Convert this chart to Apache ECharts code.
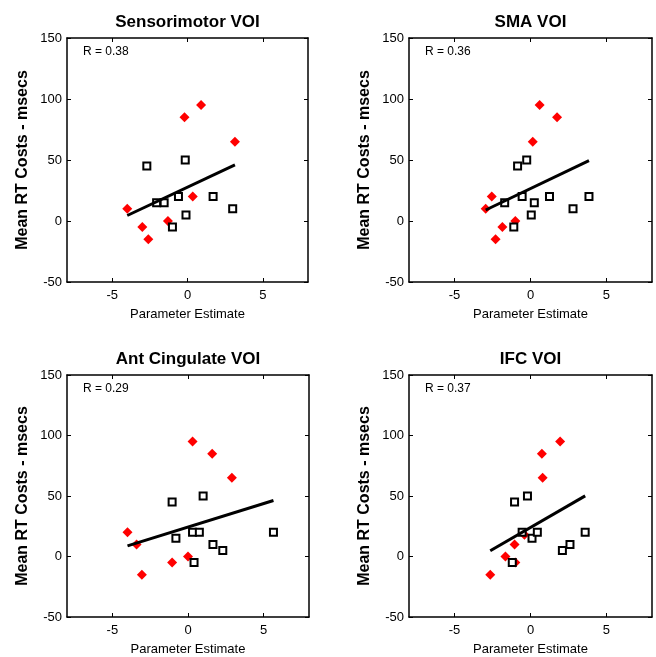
<!DOCTYPE html>
<html>
<head>
<meta charset="utf-8">
<script src="https://cdn.jsdelivr.net/npm/echarts@6/dist/echarts.min.js"></script>
<style>
html,body{margin:0;padding:0;background:#fff;}
#chart{width:656px;height:657px;}
</style>
</head>
<body>
<div id="chart"></div>
<script>
// ---- data ----
const panelTitles = ['Sensorimotor VOI', 'SMA VOI', 'Ant Cingulate VOI', 'IFC VOI'];
const rLabels = ['R = 0.38', 'R = 0.36', 'R = 0.29', 'R = 0.37'];
const xTickValues = [-5, 0, 5];
const xRange = [-8, 8];
const yRange = [-50, 150];
const yInterval = 50;
const xAxisName = 'Parameter Estimate';
const yAxisName = 'Mean RT Costs - msecs';

const sensorimotorRed = [[-4, 10], [-3, -5], [-2.6, -15], [-1.3, 0], [-0.2, 85], [0.9, 95], [0.35, 20], [3.15, 65]];
const sensorimotorBlack = [[-2.7, 45], [-0.15, 50], [-2.05, 15], [-1.55, 15], [-0.6, 20], [-0.1, 5], [-1, -5], [1.7, 20], [3, 10]];
const sensorimotorFit = [[-4, 4.5], [3.15, 46]];

const smaRed = [[-2.95, 10], [-2.55, 20], [-1.85, -5], [-2.3, -15], [-1, 0], [0.15, 65], [0.6, 95], [1.75, 85]];
const smaBlack = [[-1.7, 15], [-1.1, -5], [-0.85, 45], [-0.25, 50], [-0.55, 20], [0.05, 5], [0.25, 15], [1.25, 20], [2.8, 10], [3.85, 20]];
const smaFit = [[-2.95, 9], [3.85, 49.5]];

const antCingRed = [[-4, 20], [-3.4, 10], [-3.05, -15], [-1.05, -5], [0, 0], [0.3, 95], [1.6, 85], [2.9, 65]];
const antCingBlack = [[-1.05, 45], [-0.8, 15], [0.3, 20], [0.75, 20], [1, 50], [0.4, -5], [1.65, 10], [2.3, 5], [5.65, 20]];
const antCingFit = [[-4, 8.8], [5.65, 46.3]];

const ifcRed = [[-2.65, -15], [-1.65, 0], [-1.05, 10], [-1, -5], [-0.4, 18], [0.8, 65], [0.75, 85], [1.95, 95]];
const ifcBlack = [[-1.05, 45], [-0.2, 50], [-0.55, 20], [-1.2, -5], [0.1, 15], [0.45, 20], [2.1, 5], [2.6, 10], [3.6, 20]];
const ifcFit = [[-2.65, 4.7], [3.6, 50.1]];

const redSets = [sensorimotorRed, smaRed, antCingRed, ifcRed];
const blackSets = [sensorimotorBlack, smaBlack, antCingBlack, ifcBlack];
const fitSets = [sensorimotorFit, smaFit, antCingFit, ifcFit];

// ---- layout ----
const grids = [
  {left: 67, top: 38, width: 241, height: 244},
  {left: 409, top: 38, width: 243, height: 244},
  {left: 67, top: 375, width: 242, height: 242},
  {left: 409, top: 375, width: 243, height: 242}
];

const FONT = '"Liberation Sans", Arial, Helvetica, sans-serif';

const option = {
  backgroundColor: '#fff',
  animation: false,
  textStyle: {fontFamily: FONT, color: '#000'},
  grid: grids.map(g => Object.assign({containLabel: false, show: false}, g)),
  title: [],
  xAxis: [],
  yAxis: [],
  series: []
};

grids.forEach((g, i) => {
  option.title.push({
    text: panelTitles[i],
    left: g.left + g.width / 2,
    top: g.top - 24,
    padding: 0,
    textAlign: 'center',
    textStyle: {fontFamily: FONT, fontSize: 17, fontWeight: 'bold', color: '#000'}
  });
  option.title.push({
    text: rLabels[i],
    left: g.left + 16,
    top: g.top + 8,
    padding: 0,
    textStyle: {fontFamily: FONT, fontSize: 12, fontWeight: 'normal', color: '#000'}
  });
  const tickCommon = {show: true, inside: true, length: 4, lineStyle: {color: '#000', width: 1}};
  // bottom x axis
  option.xAxis.push({
    gridIndex: i, type: 'value', position: 'bottom', min: xRange[0], max: xRange[1],
    name: xAxisName, nameLocation: 'middle', nameGap: 26,
    nameTextStyle: {fontFamily: FONT, fontSize: 13, color: '#000'},
    axisLine: {show: true, onZero: false, lineStyle: {color: '#000', width: 1.5}},
    axisTick: Object.assign({customValues: xTickValues}, tickCommon),
    axisLabel: {customValues: xTickValues, fontFamily: FONT, fontSize: 13, color: '#000', margin: 7},
    splitLine: {show: false}
  });
  // top x axis (box + ticks)
  option.xAxis.push({
    gridIndex: i, type: 'value', position: 'top', min: xRange[0], max: xRange[1],
    axisLine: {show: true, onZero: false, lineStyle: {color: '#000', width: 1.5}},
    axisTick: Object.assign({customValues: xTickValues}, tickCommon),
    axisLabel: {show: false},
    splitLine: {show: false}
  });
  // left y axis
  option.yAxis.push({
    gridIndex: i, type: 'value', position: 'left', min: yRange[0], max: yRange[1], interval: yInterval,
    name: yAxisName, nameLocation: 'middle', nameGap: 36, nameRotate: 90,
    nameTextStyle: {fontFamily: FONT, fontSize: 16, fontWeight: 'bold', color: '#000'},
    axisLine: {show: true, onZero: false, lineStyle: {color: '#000', width: 1.5}},
    axisTick: tickCommon,
    axisLabel: {fontFamily: FONT, fontSize: 13, color: '#000', margin: 5},
    splitLine: {show: false}
  });
  // right y axis (box + ticks)
  option.yAxis.push({
    gridIndex: i, type: 'value', position: 'right', min: yRange[0], max: yRange[1], interval: yInterval,
    axisLine: {show: true, onZero: false, lineStyle: {color: '#000', width: 1.5}},
    axisTick: tickCommon,
    axisLabel: {show: false},
    splitLine: {show: false}
  });

  const xi = i * 2, yi = i * 2;
  option.series.push({
    type: 'scatter', xAxisIndex: xi, yAxisIndex: yi, data: redSets[i],
    symbol: 'diamond', symbolSize: 10,
    itemStyle: {color: '#ff0000', opacity: 1}, z: 2
  });
  option.series.push({
    type: 'scatter', xAxisIndex: xi, yAxisIndex: yi, data: blackSets[i],
    symbol: 'rect', symbolSize: 7,
    itemStyle: {color: '#ffffff', borderColor: '#000', borderWidth: 2, opacity: 1}, z: 3
  });
  option.series.push({
    type: 'line', xAxisIndex: xi, yAxisIndex: yi, data: fitSets[i],
    showSymbol: false, symbol: 'none',
    lineStyle: {color: '#000', width: 3}, z: 4
  });
});

const chart = echarts.init(document.getElementById('chart'), null, {renderer: 'canvas'});
chart.setOption(option);
</script>
</body>
</html>
